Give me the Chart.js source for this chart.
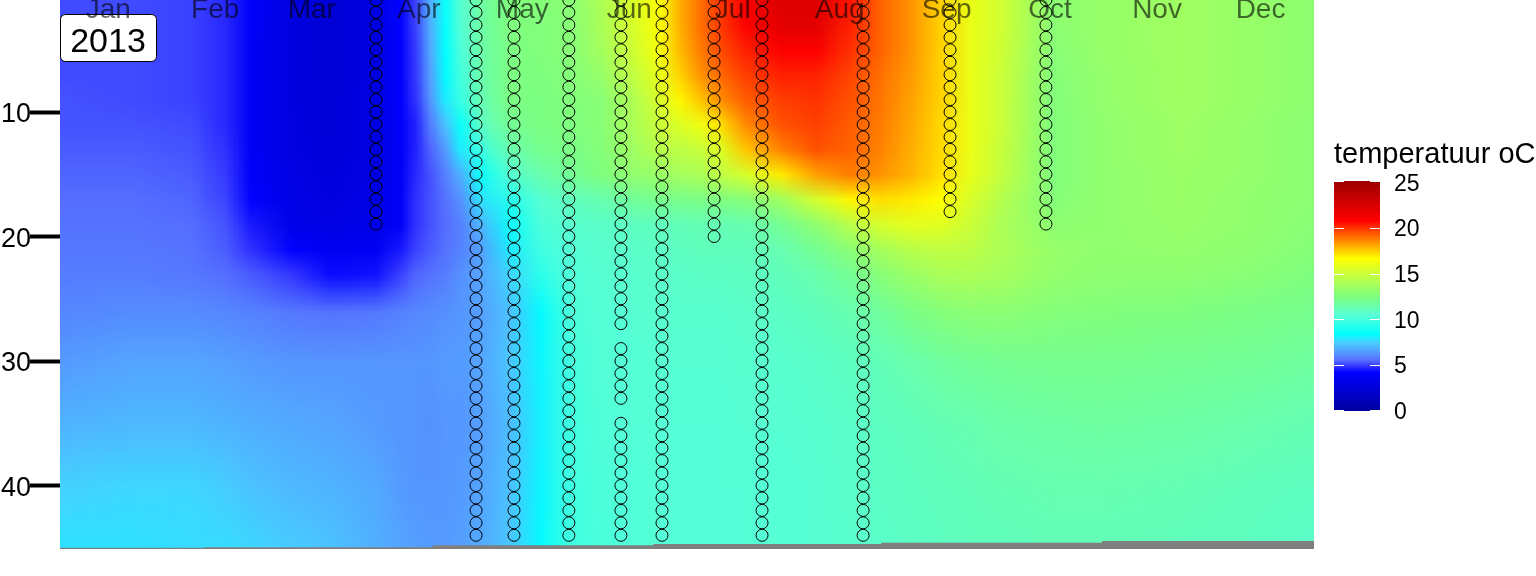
<!DOCTYPE html>
<html>
<head>
<meta charset="utf-8">
<title>temperatuur 2013</title>
<script src="https://cdn.jsdelivr.net/npm/chart.js@4/dist/chart.umd.js"></script>
<style>
  html, body { margin: 0; padding: 0; background: #fff; }
  #wrap { width: 1536px; height: 576px; }
</style>
</head>
<body>
<div id="wrap"><canvas id="chart" width="1536" height="576"></canvas></div>
<script>
const yearLabel = '2013';
const legendTitle = 'temperatuur oC';
const monthDays = [15, 46, 74, 105, 135, 166, 196, 227, 258, 288, 319, 349];
const monthLabels = ['Jan', 'Feb', 'Mar', 'Apr', 'May', 'Jun', 'Jul', 'Aug', 'Sep', 'Oct', 'Nov', 'Dec'];
const depthTicks = [10, 20, 30, 40];
const legendTicks = [0, 5, 10, 15, 20, 25];

// sampling stations: day of year, deepest sample, skipped depths
const stationDays = [92.6, 121.6, 132.6, 148.5, 163.6, 175.5, 190.6, 204.5, 233.8, 259, 286.8];
const stationLast = [19, 44, 44, 44, 44, 44, 20, 44, 44, 18, 19];
const stationGaps = [[], [], [], [], [28, 34], [], [], [], [], [], []];
const sampleDepths = [1, 2, 3, 4, 5, 6, 7, 8, 9, 10, 11, 12, 13, 14, 15, 16, 17, 18, 19, 20, 21, 22,
  23, 24, 25, 26, 27, 28, 29, 30, 31, 32, 33, 34, 35, 36, 37, 38, 39, 40, 41, 42, 43, 44];

// lake bottom, stepped
const bottomDays = [1, 43, 109, 173, 239, 303, 364.5];
const bottomDepth = [45.0, 44.95, 44.8, 44.7, 44.6, 44.45, 44.45];

// temperature, rows by depth, columns by day
const gridDays = [1, 21.3, 38.7, 48.9, 56.1, 67.7, 79.3, 92.3, 99.6, 103.9, 108.2, 112.6, 117, 122.7, 131.4, 140.1,
  148.8, 157.5, 166.2, 174.9, 180.7, 186.5, 192.3, 199.6, 209.7, 219.9, 230, 238.7, 247.4, 256.1, 264.8, 273.5,
  288, 302.5, 325.7, 346, 364.5];
const gridDepths = [1, 3, 5, 7, 9, 11, 13, 15, 17, 19, 21, 23, 26, 30, 35, 40, 45.1];
const temp01 = [5.1,5.1,5.0,4.7,4.0,2.8,2.4,3.0,4.2,5.0,6.8,8.6,10.5,11.6,12.6,12.7,12.9,14.0,15.4,16.6,18.0,19.0,20.0,21.2,22.3,22.3,20.5,19.2,18.4,17.4,16.0,15.2,12.9,13.3,13.6,13.3,13.0];
const temp03 = [5.1,5.1,5.0,4.7,3.9,2.8,2.4,3.0,4.2,5.0,6.8,8.5,10.4,11.6,12.5,12.6,12.8,13.9,15.3,16.6,18.0,19.0,19.9,20.9,22.0,22.0,20.3,19.2,18.4,17.4,16.0,15.2,12.9,13.3,13.6,13.3,13.0];
const temp05 = [5.1,5.1,5.0,4.7,3.8,2.8,2.4,3.0,4.1,4.9,6.7,8.4,10.2,11.5,12.4,12.6,12.8,13.7,15.0,16.5,17.8,18.8,19.6,20.3,20.9,20.9,20.0,19.2,18.4,17.4,16.0,15.1,12.8,13.3,13.6,13.3,13.0];
const temp07 = [5.1,5.1,5.0,4.7,3.7,2.8,2.4,3.0,4.1,4.9,6.5,8.3,10.0,11.4,12.4,12.5,12.7,13.3,14.6,16.0,17.4,18.4,19.1,19.8,20.3,20.3,19.7,19.0,18.3,17.4,16.0,15.0,12.7,13.2,13.6,13.3,13.0];
const temp09 = [5.2,5.1,5.0,4.7,3.7,2.8,2.5,3.0,4.1,4.8,6.3,8.0,9.7,11.2,12.4,12.4,12.6,12.8,14.0,15.5,16.8,17.6,18.5,19.3,19.8,20.0,19.5,18.9,18.2,17.4,16.0,15.0,12.6,13.2,13.6,13.3,13.0];
const temp11 = [5.2,5.2,5.1,4.7,3.7,2.9,2.5,3.0,4.0,4.6,5.8,7.2,8.6,10.8,12.0,12.4,12.5,12.8,13.9,15.0,15.6,16.2,17.2,18.6,19.5,19.8,19.3,18.8,18.1,17.3,16.0,15.0,12.6,13.1,13.5,13.2,12.9];
const temp13 = [5.3,5.3,5.2,4.8,3.8,2.9,2.6,3.0,3.9,4.6,5.4,6.4,8.0,9.8,11.4,12.1,12.3,12.7,13.5,14.4,14.6,14.9,15.6,17.6,18.7,19.5,19.2,18.7,18.0,17.3,16.0,14.9,12.6,13.1,13.5,13.2,12.9];
const temp15 = [5.4,5.4,5.3,4.9,4.0,3.0,2.7,3.0,3.9,4.7,5.2,5.9,6.8,8.6,10.5,11.4,12.0,12.5,13.1,13.4,13.8,14.0,14.6,15.4,17.0,18.2,18.8,18.4,17.9,17.2,15.9,14.8,12.6,13.1,13.4,13.2,12.9];
const temp17 = [5.5,5.5,5.4,5.0,4.2,3.1,2.8,3.1,3.9,4.8,5.2,5.6,6.2,7.8,9.3,10.5,11.0,11.3,11.8,12.2,12.2,12.3,12.5,12.7,13.6,15.3,16.8,17.2,17.0,16.6,15.4,14.3,12.7,13.1,13.4,13.1,12.9];
const temp19 = [5.6,5.6,5.5,5.2,4.5,3.2,3.0,3.2,3.9,4.8,5.2,5.5,5.9,6.9,8.6,10.2,10.6,10.7,10.9,11.0,11.1,11.2,11.2,11.3,12.0,13.0,14.5,15.4,15.8,15.7,15.0,14.0,13.0,13.1,13.3,13.1,12.8];
const temp21 = [5.7,5.7,5.6,5.3,4.8,4.2,3.6,3.7,4.5,5.0,5.3,5.6,5.9,6.5,8.0,9.9,10.4,10.6,10.7,10.8,10.9,11.0,11.0,11.0,11.3,12.0,12.9,13.8,14.4,14.7,14.6,14.0,13.3,13.1,13.2,13.0,12.7];
const temp23 = [5.8,5.8,5.7,5.5,5.3,4.9,4.3,4.4,5.0,5.4,5.6,5.8,6.2,6.6,7.6,9.4,10.3,10.5,10.6,10.7,10.7,10.8,10.8,10.9,11.0,11.4,12.0,12.8,13.4,13.9,14.0,13.8,13.2,13.0,13.0,12.8,12.5];
const temp26 = [6.0,6.1,6.1,6.0,5.9,5.7,5.6,5.7,5.9,6.0,6.1,6.2,6.3,6.5,7.2,8.3,10.2,10.4,10.5,10.6,10.6,10.6,10.6,10.7,10.8,11.0,11.3,11.8,12.3,12.7,12.9,12.9,12.7,12.6,12.5,12.3,12.1];
const temp30 = [6.4,6.6,6.6,6.5,6.4,6.3,6.3,6.3,6.3,6.3,6.3,6.4,6.4,6.6,7.3,8.2,10.0,10.4,10.4,10.5,10.5,10.5,10.5,10.6,10.6,10.7,10.9,11.1,11.4,11.7,11.9,12.0,12.1,12.1,12.0,11.9,11.7];
const temp35 = [6.9,7.0,7.0,6.9,6.8,6.7,6.6,6.4,6.3,6.3,6.2,6.3,6.3,6.5,7.1,8.1,9.9,10.3,10.4,10.4,10.4,10.4,10.4,10.5,10.5,10.6,10.7,10.9,11.0,11.2,11.3,11.5,11.6,11.7,11.6,11.4,11.2];
const temp40 = [7.5,7.6,7.6,7.4,7.2,7.0,6.9,6.7,6.4,6.3,6.3,6.3,6.4,6.6,7.2,8.2,9.9,10.2,10.3,10.4,10.4,10.4,10.4,10.4,10.4,10.5,10.7,10.8,10.9,11.0,11.1,11.2,11.3,11.3,11.2,11.0,10.9];
const temp45 = [7.8,7.8,7.7,7.7,7.6,7.4,7.2,6.8,6.6,6.5,6.4,6.4,6.5,6.7,7.3,8.3,9.9,10.1,10.3,10.4,10.4,10.4,10.4,10.4,10.5,10.5,10.6,10.7,10.8,10.9,11.0,11.0,11.1,11.1,11.0,10.9,10.7];
const tempRows = [temp01, temp03, temp05, temp07, temp09, temp11, temp13, temp15, temp17, temp19, temp21, temp23, temp26, temp30, temp35, temp40, temp45];

// colour ramp of the legend
const rampStops = [0, 4.17, 4.8, 5.5, 6.5, 7.5, 8.35, 10.4, 12.5, 14.6, 16.67, 18.75, 20.83, 25];
const rampColors = [[0, 0, 160], [0, 0, 255], [48, 48, 255], [85, 110, 255], [85, 160, 255], [70, 210, 255],
  [0, 255, 255], [85, 255, 215], [127, 255, 127], [190, 255, 70], [255, 255, 0], [255, 128, 0], [255, 0, 0], [160, 0, 0]];

function rampColor(v) {
  let i = 0;
  while (i < rampStops.length - 2 && v > rampStops[i + 1]) i++;
  const t = Math.max(0, Math.min(1, (v - rampStops[i]) / (rampStops[i + 1] - rampStops[i])));
  const a = rampColors[i], b = rampColors[i + 1];
  return [0, 1, 2].map(k => Math.round(a[k] + (b[k] - a[k]) * t));
}

function buildGridImage() {
  const off = document.createElement('canvas');
  off.width = gridDays.length;
  off.height = gridDepths.length;
  const octx = off.getContext('2d');
  const img = octx.createImageData(off.width, off.height);
  tempRows.forEach((row, j) => {
    row.forEach((v, i) => {
      const c = rampColor(v);
      const p = (j * off.width + i) * 4;
      img.data[p] = c[0];
      img.data[p + 1] = c[1];
      img.data[p + 2] = c[2];
      img.data[p + 3] = 255;
    });
  });
  octx.putImageData(img, 0, 0);
  return off;
}

const gridImage = buildGridImage();

const stationPoints = [];
stationDays.forEach((day, s) => {
  sampleDepths.forEach(d => {
    if (d <= stationLast[s] && !stationGaps[s].includes(d)) stationPoints.push({ x: day, y: d });
  });
});

// heat grid goes under the datasets; cells are shaded smoothly between the read values
const heatPlugin = {
  id: 'heat',
  beforeDatasetsDraw(chart) {
    const { ctx, chartArea, scales: { x, y } } = chart;
    ctx.save();
    ctx.beginPath();
    ctx.rect(chartArea.left, chartArea.top, chartArea.width, chartArea.height);
    ctx.clip();
    ctx.imageSmoothingEnabled = true;
    for (let j = 0; j < gridDepths.length - 1; j++) {
      const y0 = Math.round(y.getPixelForValue(gridDepths[j]));
      const y1 = Math.round(y.getPixelForValue(gridDepths[j + 1]));
      for (let i = 0; i < gridDays.length - 1; i++) {
        const x0 = Math.round(x.getPixelForValue(gridDays[i]));
        const x1 = Math.round(x.getPixelForValue(gridDays[i + 1]));
        ctx.drawImage(gridImage, i + 0.5, j + 0.5, 1, 1, x0, y0, x1 - x0, y1 - y0);
      }
    }
    ctx.restore();

    // year label
    ctx.save();
    ctx.beginPath();
    ctx.roundRect(60.5, 14.5, 96, 47, 5);
    ctx.fillStyle = '#fff';
    ctx.fill();
    ctx.strokeStyle = '#000';
    ctx.lineWidth = 1;
    ctx.stroke();
    ctx.fillStyle = '#000';
    ctx.font = '34px "Liberation Sans"';
    ctx.textAlign = 'center';
    ctx.textBaseline = 'alphabetic';
    ctx.fillText(yearLabel, 108, 52);
    ctx.restore();
  },
  afterDraw(chart) {
    const ctx = chart.ctx;
    const px = v => 410.5 - v * 9.12;
    ctx.save();
    ctx.fillStyle = '#000';
    ctx.font = '29px "Liberation Sans"';
    ctx.textAlign = 'left';
    ctx.textBaseline = 'alphabetic';
    ctx.fillText(legendTitle, 1334, 163);
    for (let yy = 182; yy < 410; yy++) {
      const c = rampColor((410.5 - yy - 0.5) / 9.12);
      ctx.fillStyle = `rgb(${c[0]},${c[1]},${c[2]})`;
      ctx.fillRect(1334, yy, 46, 1);
    }
    ctx.fillStyle = 'rgb(160,0,0)';
    ctx.fillRect(1344, 181, 26, 1);
    ctx.fillStyle = 'rgb(0,0,160)';
    ctx.fillRect(1344, 410, 26, 1);
    ctx.font = '23px "Liberation Sans"';
    ctx.textBaseline = 'middle';
    legendTicks.forEach(t => {
      if (t > 0 && t < 25) {
        ctx.fillStyle = '#fff';
        ctx.fillRect(1334, Math.round(px(t)), 10, 1);
        ctx.fillRect(1370, Math.round(px(t)), 10, 1);
      }
      ctx.fillStyle = '#000';
      ctx.textAlign = 'left';
      ctx.fillText(String(t), 1394, px(t) + 2);
    });
    ctx.restore();
  }
};

new Chart(document.getElementById('chart').getContext('2d'), {
  type: 'scatter',
  data: {
    datasets: [
      {
        type: 'line',
        data: bottomDays.map((d, i) => ({ x: d, y: bottomDepth[i] })),
        stepped: 'before',
        fill: 'start',
        backgroundColor: '#7f7f7f',
        borderWidth: 0,
        pointRadius: 0,
        order: 2
      },
      {
        data: stationPoints,
        pointStyle: 'circle',
        pointRadius: 6,
        pointBorderWidth: 1,
        pointBorderColor: '#000',
        pointBackgroundColor: 'rgba(0,0,0,0)',
        clip: false,
        order: 1
      }
    ]
  },
  options: {
    responsive: false,
    animation: false,
    layout: { autoPadding: false, padding: { left: 0, right: 222, top: 0, bottom: 27 } },
    plugins: { legend: { display: false }, tooltip: { enabled: false } },
    scales: {
      x: {
        type: 'linear',
        position: 'top',
        min: 1,
        max: 364.5,
        grid: { display: false },
        border: { display: false },
        afterFit: s => { s.height = 0; s.paddingLeft = 0; s.paddingRight = 0; },
        afterBuildTicks: s => { s.ticks = monthDays.map(v => ({ value: v })); },
        ticks: {
          z: 1,
          mirror: true,
          autoSkip: false,
          maxRotation: 0,
          padding: -7,
          color: 'rgba(0,0,0,0.6)',
          font: { family: '"Liberation Sans"', size: 28 },
          callback: v => monthLabels[monthDays.indexOf(v)]
        }
      },
      y: {
        type: 'linear',
        reverse: true,
        min: 1,
        max: 45.1,
        grid: { drawOnChartArea: false, drawTicks: true, tickLength: 30, tickWidth: 4, tickColor: '#000' },
        border: { display: false },
        afterFit: s => { s.width = 60; s.paddingTop = 0; s.paddingBottom = 0; },
        afterBuildTicks: s => { s.ticks = depthTicks.map(v => ({ value: v })); },
        ticks: {
          padding: -1,
          labelOffset: 3,
          color: '#000',
          font: { family: '"Liberation Sans"', size: 27 }
        }
      }
    }
  },
  plugins: [heatPlugin]
});
</script>
</body>
</html>
